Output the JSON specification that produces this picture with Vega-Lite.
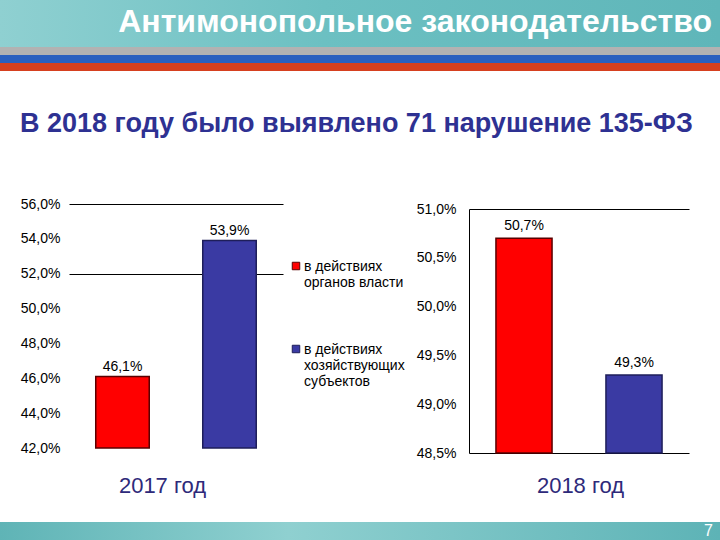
{
  "$schema": "https://vega.github.io/schema/vega-lite/v6.json",
  "background": "white",
  "padding": 0,
  "config": {
    "view": {"stroke": null},
    "font": "Liberation Sans",
    "locale": {"number": {"decimal": ",", "thousands": " ", "grouping": [3], "currency": ["", " ₽"]}},
    "title": {"font": "Liberation Sans"},
    "axis": {"labelFont": "Liberation Sans", "titleFont": "Liberation Sans"},
    "legend": {"labelFont": "Liberation Sans"}
  },
  "datasets": {
    "header": [{"text": "Антимонопольное законодательство"}],
    "page": [{"text": "7"}],
    "y2017": [
      {"category": "в действиях органов власти", "share": 0.461},
      {"category": "в действиях хозяйствующих субъектов", "share": 0.539}
    ],
    "y2018": [
      {"category": "в действиях органов власти", "share": 0.507},
      {"category": "в действиях хозяйствующих субъектов", "share": 0.493}
    ]
  },
  "spacing": 39,
  "vconcat": [
    {
      "spacing": 0,
      "vconcat": [
        {
          "width": 720,
          "height": 47,
          "data": {"name": "header"},
          "mark": {"type": "text", "align": "right", "baseline": "middle", "dx": 352, "dy": -2, "fontSize": 32, "fontWeight": "bold", "color": "white"},
          "encoding": {"text": {"field": "text", "type": "nominal"}},
          "view": {
            "stroke": null,
            "fill": {
              "gradient": "linear", "x1": 0, "y1": 0, "x2": 1, "y2": 0,
              "stops": [
                {"offset": 0, "color": "#8fd0d1"},
                {"offset": 0.45, "color": "#6cc0c2"},
                {"offset": 1, "color": "#5fb6b9"}
              ]
            }
          }
        },
        {
          "width": 720,
          "height": 24,
          "data": {"values": []},
          "mark": "rect",
          "encoding": {},
          "view": {
            "stroke": null,
            "fill": {
              "gradient": "linear", "x1": 0, "y1": 0, "x2": 0, "y2": 1,
              "stops": [
                {"offset": 0, "color": "#b2b2b2"},
                {"offset": 0.33, "color": "#b2b2b2"},
                {"offset": 0.34, "color": "#2a60bf"},
                {"offset": 0.66, "color": "#2a60bf"},
                {"offset": 0.67, "color": "#d6401f"},
                {"offset": 1, "color": "#d6401f"}
              ]
            }
          }
        }
      ]
    },
    {
      "spacing": 26,
      "vconcat": [
        {
          "title": {
            "text": "В 2018 году было выявлено 71 нарушение 135-ФЗ",
            "anchor": "start", "dx": 20, "offset": 59,
            "fontSize": 27, "fontWeight": "bold", "color": "#2e3192"
          },
          "spacing": 11,
          "resolve": {"scale": {"color": "independent", "stroke": "independent"}},
          "hconcat": [
            {
              "width": 283,
              "height": 249,
              "data": {"name": "y2017"},
              "encoding": {
                "x": {
                  "field": "category", "type": "nominal", "sort": null,
                  "scale": {"paddingInner": 0.5, "paddingOuter": 0.5724, "align": 0.7816},
                  "axis": {
                    "title": "2017 год", "labels": false, "ticks": false, "domain": false,
                    "titleFontSize": 22, "titleFontWeight": "normal", "titleColor": "#2e2a7a",
                    "titlePadding": 22, "titleX": 162
                  }
                },
                "y": {
                  "field": "share", "type": "quantitative",
                  "scale": {"domain": [0.42, 0.56], "nice": false, "zero": false, "range": [244, 0]},
                  "axis": {
                    "title": null,
                    "offset": -69,
                    "values": [0.42, 0.44, 0.46, 0.48, 0.5, 0.52, 0.54, 0.56],
                    "format": ".1%",
                    "domain": false, "grid": false,
                    "ticks": true, "tickSize": -214, "tickColor": "black", "tickWidth": 1,
                    "tickOpacity": {"condition": {"test": "datum.value == 0.52 || datum.value == 0.56", "value": 1}, "value": 0},
                    "labelFontSize": 14, "labelColor": "black", "labelPadding": 223
                  }
                }
              },
              "layer": [
                {
                  "mark": {"type": "bar", "strokeWidth": 1.5},
                  "encoding": {
                    "y2": {"datum": 0.42},
                    "color": {
                      "field": "category", "type": "nominal", "sort": null,
                      "scale": {"range": ["#ff0000", "#3a3aa3"]},
                      "legend": {
                        "title": null, "orient": "none", "legendX": 289, "legendY": 55,
                        "padding": 0, "symbolType": "square", "symbolSize": 56,
                        "symbolStrokeColor": "#222222", "symbolStrokeWidth": 1,
                        "labelFontSize": 14, "labelColor": "black", "labelOffset": 1,
                        "labelLimit": 200, "labelBaseline": "top", "rowPadding": 52,
                        "labelExpr": "datum.label == 'в действиях органов власти' ? ['в действиях', 'органов власти'] : ['в действиях', 'хозяйствующих', 'субъектов']",
                        "encode": {"labels": {"update": {"dy": {"value": -6}}}}
                      }
                    },
                    "stroke": {
                      "field": "category", "type": "nominal", "sort": null,
                      "scale": {"range": ["#5a0000", "#1e1e5a"]},
                      "legend": null
                    }
                  }
                },
                {
                  "mark": {"type": "text", "baseline": "alphabetic", "dy": -6, "fontSize": 14, "color": "black"},
                  "encoding": {"text": {"field": "share", "type": "quantitative", "format": ".1%"}}
                }
              ]
            },
            {
              "width": 220,
              "height": 249,
              "data": {"name": "y2018"},
              "encoding": {
                "x": {
                  "field": "category", "type": "nominal", "sort": null,
                  "scale": {"paddingInner": 0.49, "paddingOuter": 0.245},
                  "axis": {
                    "title": "2018 год", "labels": false, "ticks": false,
                    "domain": true, "domainColor": "black", "domainWidth": 1,
                    "titleFontSize": 22, "titleFontWeight": "normal", "titleColor": "#2e2a7a",
                    "titlePadding": 22, "titleX": 111
                  }
                },
                "y": {
                  "field": "share", "type": "quantitative",
                  "scale": {"domain": [0.485, 0.51], "nice": false, "zero": false, "range": [249, 5]},
                  "axis": {
                    "title": null,
                    "values": [0.485, 0.49, 0.495, 0.5, 0.505, 0.51],
                    "format": ".1%",
                    "domain": true, "domainColor": "black", "domainWidth": 1, "ticks": false,
                    "labelFontSize": 14, "labelColor": "black", "labelPadding": 13,
                    "grid": true, "gridColor": "black", "gridWidth": 1,
                    "gridOpacity": {"condition": {"test": "datum.value == 0.51", "value": 1}, "value": 0}
                  }
                }
              },
              "layer": [
                {
                  "mark": {"type": "bar", "strokeWidth": 1.5},
                  "encoding": {
                    "y2": {"datum": 0.485},
                    "color": {
                      "field": "category", "type": "nominal", "sort": null,
                      "scale": {"range": ["#ff0000", "#3a3aa3"]},
                      "legend": null
                    },
                    "stroke": {
                      "field": "category", "type": "nominal", "sort": null,
                      "scale": {"range": ["#5a0000", "#1e1e5a"]},
                      "legend": null
                    }
                  }
                },
                {
                  "mark": {"type": "text", "baseline": "alphabetic", "dy": -8, "fontSize": 14, "color": "black"},
                  "encoding": {"text": {"field": "share", "type": "quantitative", "format": ".1%"}}
                }
              ]
            }
          ]
        },
        {
          "width": 720,
          "height": 18,
          "data": {"name": "page"},
          "mark": {"type": "text", "align": "right", "baseline": "middle", "dx": 353, "fontSize": 16, "color": "white"},
          "encoding": {"text": {"field": "text", "type": "nominal"}},
          "view": {
            "stroke": null,
            "fill": {
              "gradient": "linear", "x1": 0, "y1": 0, "x2": 1, "y2": 0,
              "stops": [
                {"offset": 0, "color": "#5fb4b6"},
                {"offset": 0.4, "color": "#8fd0d0"},
                {"offset": 1, "color": "#5db3b6"}
              ]
            }
          }
        }
      ]
    }
  ]
}
